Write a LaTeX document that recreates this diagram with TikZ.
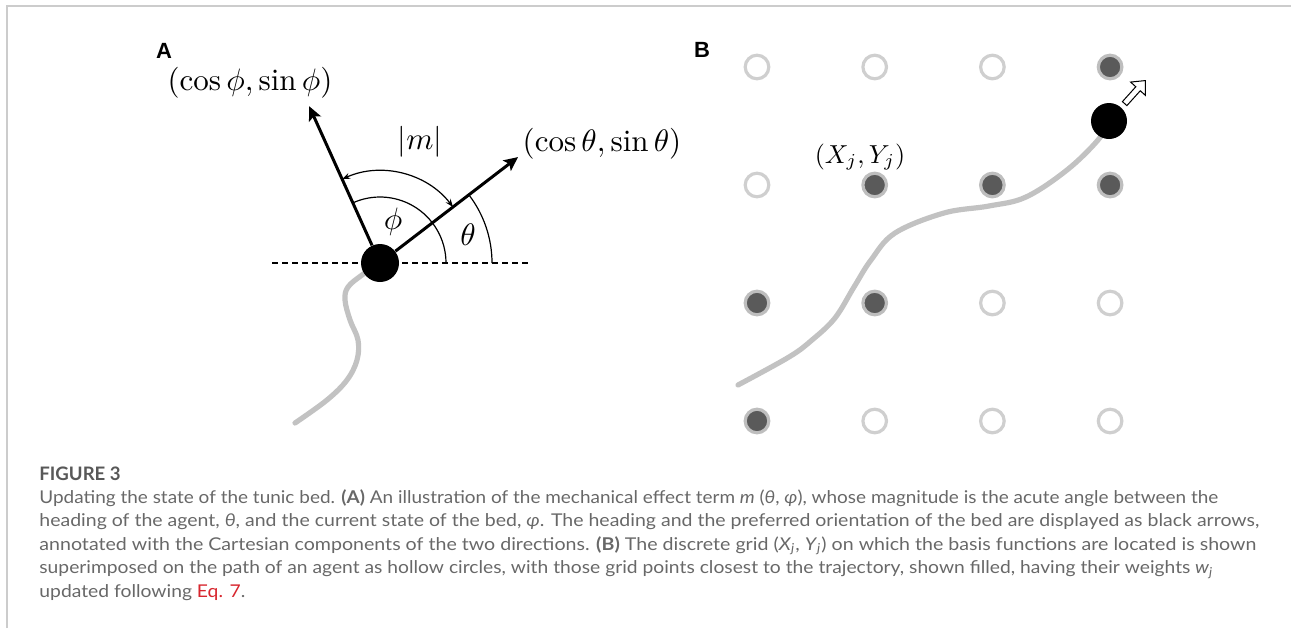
\documentclass[tikz,border=0pt]{standalone}
\usepackage{amsmath}
\usepackage{graphicx}
\usepackage{fontspec}
\newfontfamily\capfont{Lato}
\newfontfamily\panelfont{Liberation Sans}
\usepackage{tikz}
\usetikzlibrary{arrows.meta, backgrounds}
\definecolor{trackgray}{HTML}{C2C2C2}
\definecolor{ringgray}{HTML}{CFCFCF}
\definecolor{dotgray}{HTML}{5A5A5A}
\definecolor{capgray}{HTML}{686868}
\definecolor{eqred}{HTML}{D7262E}
\definecolor{framegray}{HTML}{CCCCCC}
\newcommand{\lblA}[1]{\scalebox{1.55}{$#1$}}
\newcommand{\lblB}[1]{\scalebox{1.3}{$#1$}}
\newcommand{\capfit}[2]{\resizebox{#1}{\height}{#2}}

\begin{document}
\begin{tikzpicture}[x=0.5pt, y=0.5pt, >=Stealth,
    agent/.style={circle, fill=black, inner sep=0pt, minimum size=19pt},
    openpt/.style={circle, draw=ringgray, line width=1.6pt, fill=white, inner sep=0pt, minimum size=11.8pt},
    fullpt/.style={openpt, fill=dotgray, draw=ringgray!92!black},
    track/.style={trackgray, line width=2.6pt, line cap=round},
    axisline/.style={dash pattern=on 3pt off 2pt, line width=0.6pt},
    vec/.style={line width=1.5pt, -{Stealth[length=7pt, width=6.5pt, inset=1.5pt]}},
    angarc/.style={line width=0.6pt},
    mathlbl/.style={inner sep=0pt},
    panel/.style={font=\panelfont\bfseries\fontsize{11}{13}\selectfont, inner sep=0pt},
    capline/.style={font=\capfont\fontsize{8.8}{11}\selectfont, text=capgray, inner sep=0pt, anchor=base west}]

  \useasboundingbox (0,0) rectangle (1291,-628);
  % frame
  \draw[framegray, line width=0.7pt] (7,-628) -- (7,-6) -- (1291,-6);

  % panel A: heading and bed orientation
  \node[panel] (labA) at (164,-51) {A};
  \node[agent] (agentA) at (380,-263) {};
  \path (agentA.center) ++(114.3:172) coordinate (tipP)
        (agentA.center) ++(37.5:174) coordinate (tipT)
        (agentA.center) ++(-108,0) coordinate (axL)
        (agentA.center) ++(150,0) coordinate (axR);
  \begin{scope}[on background layer]
    \draw[axisline] (axL) -- (axR);
    \draw[track] plot[smooth, tension=0.6] coordinates {(agentA.center) (362,-275) (348,-287) (345,-300)
      (350,-320) (358,-340) (357,-360) (347,-380) (327,-400) (295,-423)};
  \end{scope}
  \draw[vec] (agentA) -- (tipP);
  \draw[vec] (agentA) -- (tipT);
  \draw[angarc] (agentA.center) ++(0:66) arc[start angle=0, end angle=114.3, radius=66];
  \draw[angarc] (agentA.center) ++(0:112) arc[start angle=0, end angle=37.5, radius=112];
  \draw[angarc, {Stealth[length=4pt, width=3pt]}-{Stealth[length=4pt, width=3pt]}]
    (agentA.center) ++(37.5:92) arc[start angle=37.5, end angle=114.3, radius=92];
  \node[mathlbl] (labP) at (250,-83) {\lblA{(\cos\phi,\sin\phi)}};
  \node[mathlbl] (labT) at (602,-144) {\lblA{(\cos\theta,\sin\theta)}};
  \node[mathlbl] (labM) at (420,-142) {\lblA{|m|}};
  \node[mathlbl] (labPhi) at (393,-222) {\lblA{\phi}};
  \node[mathlbl] (labTheta) at (468,-235) {\lblA{\theta}};

  % panel B: basis grid
  \node[panel] (labB) at (702,-50) {B};
  \foreach \c/\r/\s in {1/1/openpt, 2/1/openpt, 3/1/openpt, 4/1/fullpt,
                        1/2/openpt, 2/2/fullpt, 3/2/fullpt, 4/2/fullpt,
                        1/3/fullpt, 2/3/fullpt, 3/3/openpt, 4/3/openpt,
                        1/4/fullpt, 2/4/openpt, 3/4/openpt, 4/4/openpt}
    \node[\s] (g-\c-\r) at ({757+117.7*(\c-1)}, {-67-118*(\r-1)}) {};
  \node[agent, minimum size=18pt] (agentB) at (1109,-121) {};
  \node[mathlbl] (labXY) at (860,-157) {\lblB{(X_j,Y_j)}};
  \begin{scope}[on background layer]
    \draw[track] plot[smooth, tension=0.6] coordinates {(agentB.center) (1098,-140) (1067,-170) (1026,-197)
      (989,-206) (944,-213) (895,-233) (871,-260) (854,-287) (835,-318) (812,-340) (789,-357) (738,-385)};
  \end{scope}
  \draw[line width=0.5pt, fill=white, shift={(agentB.48)}, rotate=48]
    (5,-3) -- (25,-3) -- (25,-10) -- (36,0) -- (25,10) -- (25,3) -- (5,3) -- cycle;

  % caption
  \node[capline, font=\capfont\bfseries\fontsize{9.3}{11}\selectfont, text=capgray!85!black] (capHead) at (39,-480) {FIGURE 3};
  \node[capline] (cap1) at (39,-503) {\capfit{589.5pt}{Updating the state of the tunic bed. {\bfseries (A)} An illustration of the mechanical effect term \textit{m} (\textit{θ}, \textit{φ}), whose magnitude is the acute angle between the}};
  \node[capline] (cap2) at (39,-526.5) {\capfit{610pt}{heading of the agent, \textit{θ}, and the current state of the bed, \textit{φ}. The heading and the preferred orientation of the bed are displayed as black arrows,}};
  \node[capline] (cap3) at (39,-550) {\capfit{608.5pt}{annotated with the Cartesian components of the two directions. {\bfseries (B)} The discrete grid (\textit{X}\textsubscript{\textit{j}}, \textit{Y}\textsubscript{\textit{j}}) on which the basis functions are located is shown}};
  \node[capline] (cap4) at (39,-573.5) {\capfit{587pt}{superimposed on the path of an agent as hollow circles, with those grid points closest to the trajectory, shown filled, having their weights \textit{w}\textsubscript{\textit{j}}}};
  \node[capline] (cap5) at (39,-597) {\capfit{103pt}{updated following \textcolor{eqred}{Eq. 7}.}};
\end{tikzpicture}
\end{document}
